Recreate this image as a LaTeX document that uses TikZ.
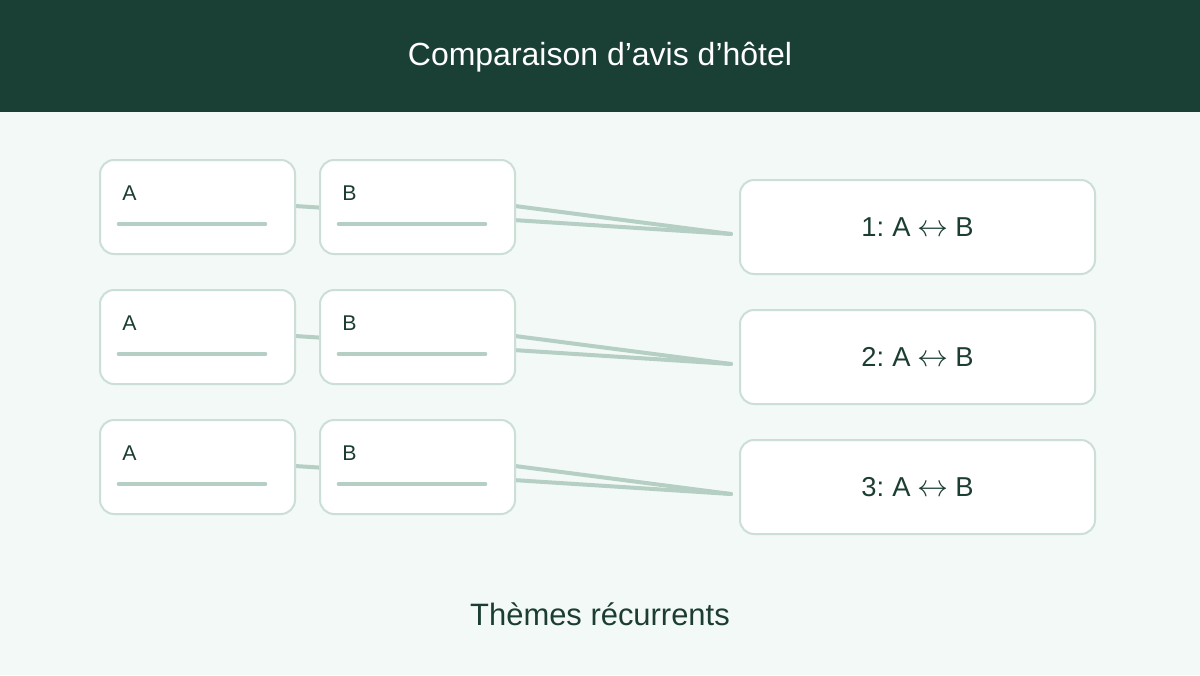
\documentclass[tikz,border=0pt]{standalone}
\usepackage{fontspec}
\setmainfont{Liberation Sans}
\definecolor{hdr}{HTML}{1A4035}
\definecolor{bgc}{HTML}{F3F9F6}
\definecolor{bord}{HTML}{CCDFD6}
\definecolor{bar}{HTML}{B5CFC4}
\definecolor{txt}{HTML}{1C3D33}
\tikzset{
  card/.style={draw=bord, line width=1.5pt, fill=white, rounded corners=10.5pt, inner sep=0pt},
  link/.style={draw=bar, line width=3pt, line cap=round},
  barline/.style={draw=bar, line width=3.5pt, line cap=round},
  lbl/.style={text=txt, font=\fontsize{16pt}{18pt}\selectfont, anchor=base west, inner sep=0pt},
  res/.style={text=txt, font=\fontsize{20.5pt}{22pt}\selectfont},
}
\begin{document}
\begin{tikzpicture}[x=0.75pt, y=-0.75pt]
\useasboundingbox (0,0) rectangle (1200,675);
\fill[bgc] (0,0) rectangle (1200,675);
\fill[hdr] (0,0) rectangle (1200,112);
\node[text=white, font=\fontsize{24pt}{26pt}\selectfont] (title) at (600,57) {Comparaison d’avis d’hôtel};
\node[text=txt, font=\fontsize{23.2pt}{26pt}\selectfont] (foot) at (600,614) {Thèmes récurrents};
\foreach \i/\y/\ry in {1/160/180, 2/290/310, 3/420/440} {
  \coordinate (a\i) at (197.5,\y+47);
  \coordinate (b\i) at (417.5,\y+47);
  \coordinate (r\i) at (917.5,\ry+47);
  \coordinate (ae\i) at (295,\y+46);
  \coordinate (be\i) at (515,\y+46);
  \coordinate (t\i) at (731,\ry+54);
  \draw[link] (ae\i) -- (t\i);
  \draw[link] (be\i) -- (t\i);
  \node[card, minimum width=195*0.75pt, minimum height=94*0.75pt] (A\i) at (a\i) {};
  \node[card, minimum width=195*0.75pt, minimum height=94*0.75pt] (B\i) at (b\i) {};
  \node[card, minimum width=355*0.75pt, minimum height=94*0.75pt] (R\i) at (r\i) {};
  \node[lbl] (la\i) at (122,\y+40) {A};
  \node[lbl] (lb\i) at (342,\y+40) {B};
  \coordinate (abs\i) at (119,\y+64);
  \coordinate (abe\i) at (265,\y+64);
  \coordinate (bbs\i) at (339,\y+64);
  \coordinate (bbe\i) at (485,\y+64);
  \draw[barline] (abs\i) -- (abe\i);
  \draw[barline] (bbs\i) -- (bbe\i);
  \node[res] (lr\i) at (R\i.center) {\i:\hspace{0.3em}A\hspace{0.25em}\scalebox{1.12}{$\leftrightarrow$}\hspace{0.25em}B};
}
\end{tikzpicture}
\end{document}
